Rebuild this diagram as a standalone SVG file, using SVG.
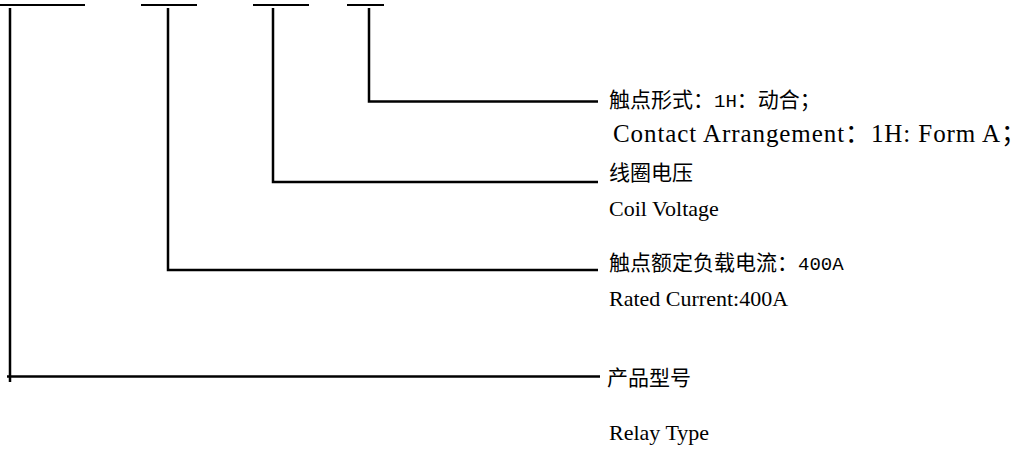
<svg xmlns="http://www.w3.org/2000/svg" width="1032" height="451" viewBox="0 0 1032 451">
<style>
.ln{fill:none;stroke:#000;stroke-width:2.5}
.ul{fill:none;stroke:#000;stroke-width:2}
.zh{font-family:"Liberation Serif","Noto Sans CJK SC",serif;font-size:21px;fill:#000}
.mono{font-family:"Liberation Mono","Noto Sans CJK SC",monospace;font-size:19px}
.en{font-family:"Liberation Serif","Noto Sans CJK SC",serif;font-size:22px;fill:#000}
.big{font-size:25px}
</style>
<rect width="1032" height="451" fill="#fff"/>
<g id="underlines">
<line class="ul" x1="0" y1="5" x2="85" y2="5"/>
<line class="ul" x1="141" y1="5" x2="197" y2="5"/>
<line class="ul" x1="253" y1="5" x2="309" y2="5"/>
<line class="ul" x1="347" y1="5" x2="384" y2="5"/>
</g>
<g id="connectors">
<polyline class="ln" points="369,8 369,101.5 598,101.5"/>
<polyline class="ln" points="273,8 273,182 598,182"/>
<polyline class="ln" points="168,8 168,270 598,270"/>
<polyline class="ln" points="10,8 10,382"/>
<line class="ln" x1="7" y1="376.5" x2="600" y2="376.5"/>
</g>
<g id="contact">
<text class="zh" x="609" y="107">触点形式：<tspan class="mono">1H</tspan>：动合；</text>
<text class="en big" x="613" y="142" textLength="413">Contact Arrangement：1H: Form A；</text>
</g>
<g id="coil">
<text class="zh" x="609" y="180">线圈电压</text>
<text class="en" x="609" y="216">Coil Voltage</text>
</g>
<g id="current">
<text class="zh" x="609" y="270">触点额定负载电流：<tspan class="mono">400A</tspan></text>
<text class="en" x="609" y="306">Rated Current:400A</text>
</g>
<g id="type">
<text class="zh" x="607" y="385">产品型号</text>
<text class="en" x="609" y="440">Relay Type</text>
</g>
</svg>
